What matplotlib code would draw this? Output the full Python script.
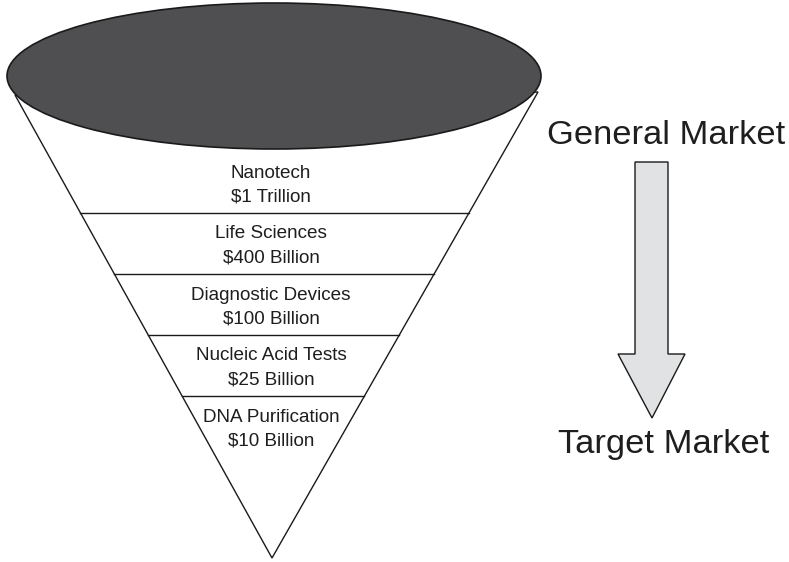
import matplotlib
matplotlib.use('Agg')
import matplotlib.pyplot as plt
from matplotlib.patches import Ellipse, Polygon

plt.rcParams['font.family'] = ['Liberation Sans', 'DejaVu Sans']

# funnel stages, top (widest) to bottom
segments = ['Nanotech', 'Life Sciences', 'Diagnostic Devices',
            'Nucleic Acid Tests', 'DNA Purification']
values = ['$1 Trillion', '$400 Billion', '$100 Billion',
          '$25 Billion', '$10 Billion']
arrow_top_label = 'General Market'
arrow_bottom_label = 'Target Market'

W, H = 789, 562

fig = plt.figure(figsize=(W / 100, H / 100), dpi=100)
ax = fig.add_axes([0, 0, 1, 1])
ax.set_xlim(0, W)
ax.set_ylim(H, 0)
ax.axis('off')

# cone geometry (pixel space)
cx, cy, rx, ry = 274, 76, 267, 73
left_top = (15, 95)
right_top = (538, 92)
apex = (272, 558)


def edge_x(p, y):
    return p[0] + (apex[0] - p[0]) * (y - p[1]) / (apex[1] - p[1])


cone = Polygon([left_top, right_top, apex], closed=True, facecolor='white',
               edgecolor='#1a1a1a', linewidth=1.0, zorder=1)
ax.add_patch(cone)

top = Ellipse((cx, cy), 2 * rx, 2 * ry, facecolor='#4f4f51',
              edgecolor='#1a1a1a', linewidth=1.2, zorder=3)
ax.add_patch(top)

step = 61
for i, (name, val) in enumerate(zip(segments, values)):
    ny = 173 + step * i
    ax.text(271, ny, name, ha='center', va='center', fontsize=13.6,
            color='#1e1e1e', zorder=4)
    ax.text(271, ny + 24, val, ha='center', va='center', fontsize=13.6,
            color='#1e1e1e', zorder=4)
    if i < len(segments) - 1:
        ly = 213 + step * i
        ax.plot([edge_x(left_top, ly), edge_x(right_top, ly)], [ly, ly],
                color='#1a1a1a', linewidth=1.0, zorder=2)

# big down arrow
shaft_l, shaft_r, shaft_top = 635, 668, 162
head_l, head_r, head_y, tip = 618, 685, 354, (652, 418)
arrow = Polygon([(shaft_l, shaft_top), (shaft_r, shaft_top), (shaft_r, head_y),
                 (head_r, head_y), tip, (head_l, head_y), (shaft_l, head_y)],
                closed=True, facecolor='#e1e2e3', edgecolor='#1a1a1a',
                linewidth=1.0, zorder=2)
ax.add_patch(arrow)

ax.text(666, 135, arrow_top_label, ha='center', va='center', fontsize=24.8,
        color='#1e1e1e')
ax.text(664, 444, arrow_bottom_label, ha='center', va='center', fontsize=24.8,
        color='#1e1e1e')

fig.savefig('out.png', dpi=100, facecolor='white')
plt.close(fig)
